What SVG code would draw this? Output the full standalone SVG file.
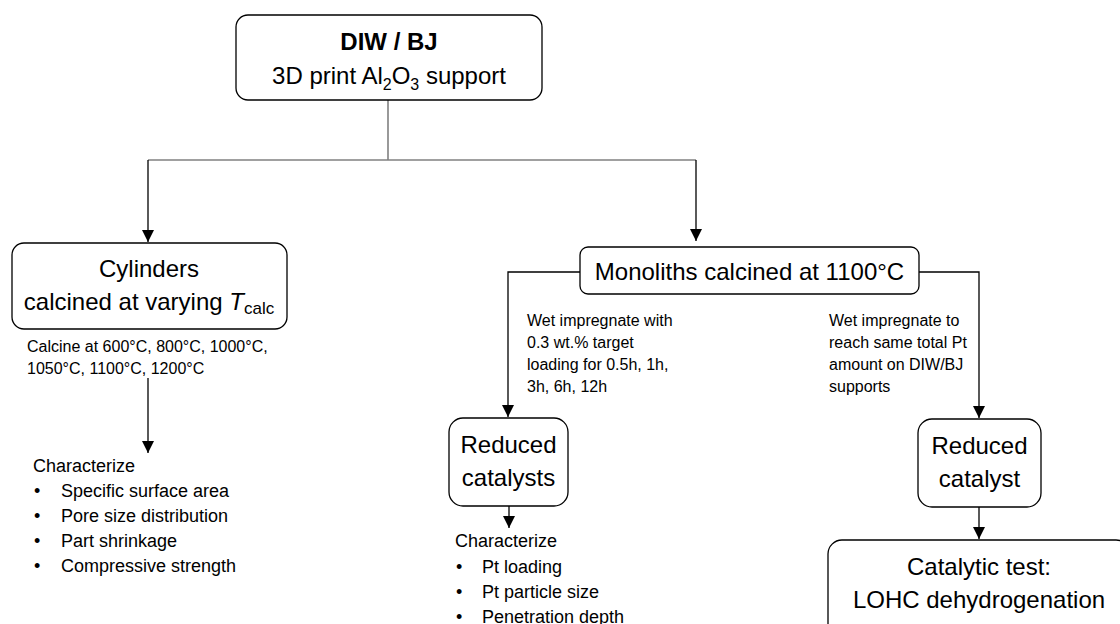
<svg xmlns="http://www.w3.org/2000/svg" width="1120" height="624" viewBox="0 0 1120 624">
  <style>
    .box { fill: #ffffff; stroke: #000000; stroke-width: 1.3; }
    .big { font-family: "Liberation Sans", Arial, sans-serif; font-size: 24px; fill: #000000; }
    .note { font-family: "Liberation Sans", Arial, sans-serif; font-size: 16px; fill: #000000; }
    .list { font-family: "Liberation Sans", Arial, sans-serif; font-size: 18px; fill: #000000; }
    .wire { fill: none; stroke: #000000; stroke-width: 1.3; }
    .wire-grey { fill: none; stroke: #808080; stroke-width: 1.6; }
  </style>
  <defs>
    <marker id="head" viewBox="0 0 12 12" markerWidth="12" markerHeight="12" markerUnits="userSpaceOnUse" refX="12" refY="6" orient="auto">
      <path d="M0,0 L12,6 L0,12 Z" fill="#000000"/>
    </marker>
  </defs>

  <rect width="1120" height="624" fill="#ffffff"/>

  <!-- connectors -->
  <g id="connectors">
    <path class="wire-grey" d="M388,100 V160"/>
    <path class="wire-grey" d="M148,160 H696"/>
    <path class="wire" d="M148,160 V242" marker-end="url(#head)"/>
    <path class="wire" d="M696,160 V241" marker-end="url(#head)"/>
    <path class="wire" d="M580,272 H508 V417" marker-end="url(#head)"/>
    <path class="wire" d="M919,272 H979 V418" marker-end="url(#head)"/>
    <path class="wire" d="M148,378 V453" marker-end="url(#head)"/>
    <path class="wire" d="M509,506 V528" marker-end="url(#head)"/>
    <path class="wire" d="M979,507 V539" marker-end="url(#head)"/>
  </g>

  <!-- source: printed support -->
  <g id="print-support">
    <rect class="box" x="236" y="15" width="306" height="85" rx="12"/>
    <text class="big" x="389" y="50" text-anchor="middle" font-weight="bold">DIW / BJ</text>
    <text class="big" x="389" y="84" text-anchor="middle">3D print Al<tspan font-size="16px" dy="6">2</tspan><tspan dy="-6">O</tspan><tspan font-size="16px" dy="6">3</tspan><tspan dy="-6"> support</tspan></text>
  </g>

  <!-- left branch: cylinders -->
  <g id="cylinders">
    <rect class="box" x="12" y="243" width="275" height="86" rx="12"/>
    <text class="big" x="149" y="277" text-anchor="middle">Cylinders</text>
    <text class="big" x="149" y="310" text-anchor="middle">calcined at varying <tspan font-style="italic">T</tspan><tspan font-size="17px" dy="4">calc</tspan></text>
  </g>

  <g id="calcine-note">
    <text class="note" x="27" y="352">Calcine at 600°C, 800°C, 1000°C,</text>
    <text class="note" x="27" y="374">1050°C, 1100°C, 1200°C</text>
  </g>

  <g id="characterize-cylinders">
    <text class="list" x="33" y="472">Characterize</text>
    <text class="list" x="34" y="497">•</text>
    <text class="list" x="61" y="497">Specific surface area</text>
    <text class="list" x="34" y="522">•</text>
    <text class="list" x="61" y="522">Pore size distribution</text>
    <text class="list" x="34" y="547">•</text>
    <text class="list" x="61" y="547">Part shrinkage</text>
    <text class="list" x="34" y="572">•</text>
    <text class="list" x="61" y="572">Compressive strength</text>
  </g>

  <!-- right branch: monoliths -->
  <g id="monoliths">
    <rect class="box" x="580" y="247" width="339" height="47" rx="8"/>
    <text class="big" x="749.5" y="280" text-anchor="middle">Monoliths calcined at 1100°C</text>
  </g>

  <g id="impregnate-note-left">
    <text class="note" x="527" y="326">Wet impregnate with</text>
    <text class="note" x="527" y="348">0.3 wt.% target</text>
    <text class="note" x="527" y="370">loading for 0.5h, 1h,</text>
    <text class="note" x="527" y="392">3h, 6h, 12h</text>
  </g>

  <g id="impregnate-note-right">
    <text class="note" x="829" y="326">Wet impregnate to</text>
    <text class="note" x="829" y="348">reach same total Pt</text>
    <text class="note" x="829" y="370">amount on DIW/BJ</text>
    <text class="note" x="829" y="392">supports</text>
  </g>

  <g id="reduced-catalysts">
    <rect class="box" x="449" y="418" width="119" height="88" rx="14"/>
    <text class="big" x="508.5" y="453" text-anchor="middle">Reduced</text>
    <text class="big" x="508.5" y="486" text-anchor="middle">catalysts</text>
  </g>

  <g id="characterize-catalysts">
    <text class="list" x="455" y="547">Characterize</text>
    <text class="list" x="456" y="573">•</text>
    <text class="list" x="482" y="573">Pt loading</text>
    <text class="list" x="456" y="598">•</text>
    <text class="list" x="482" y="598">Pt particle size</text>
    <text class="list" x="456" y="623">•</text>
    <text class="list" x="482" y="623">Penetration depth</text>
  </g>

  <g id="reduced-catalyst">
    <rect class="box" x="918" y="419" width="123" height="88" rx="14"/>
    <text class="big" x="979.5" y="454" text-anchor="middle">Reduced</text>
    <text class="big" x="979.5" y="487" text-anchor="middle">catalyst</text>
  </g>

  <g id="catalytic-test">
    <rect class="box" x="828" y="540" width="302" height="100" rx="14"/>
    <text class="big" x="979" y="575" text-anchor="middle">Catalytic test:</text>
    <text class="big" x="979" y="608" text-anchor="middle">LOHC dehydrogenation</text>
  </g>
</svg>
